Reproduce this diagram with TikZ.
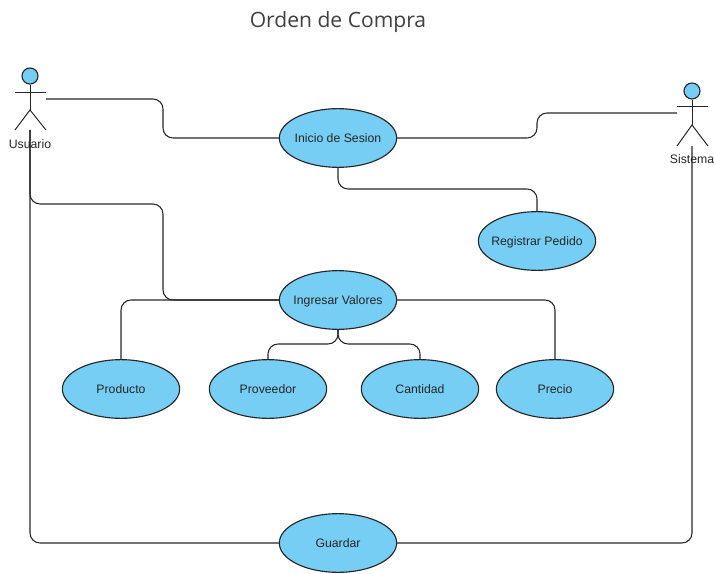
\documentclass[tikz,border=0pt]{standalone}
\usepackage{fontspec}
\setmainfont{Liberation Sans}
\newfontfamily\titlefont{Open Sans}
\usetikzlibrary{shapes.geometric}
\definecolor{casefill}{HTML}{76CEF5}
\definecolor{inkline}{HTML}{262626}
\tikzset{
    casenode/.style={draw=inkline,fill=casefill,ellipse,line width=0.85pt,minimum width=88pt,minimum height=44pt,inner xsep=-14pt,inner ysep=0pt,font=\fontsize{9.2}{11}\selectfont,text=black!85,text height=8.1pt,text depth=1.9pt},
    headnode/.style={draw=inkline,fill=casefill,circle,line width=0.85pt,minimum size=12pt,inner sep=0pt},
    actorname/.style={font=\fontsize{9.2}{11}\selectfont,text=black!85,inner sep=0pt},
    limb/.style={draw=inkline,line width=0.75pt},
    conn/.style={draw=inkline,line width=0.8pt,rounded corners=7.5pt},
}

\begin{document}
\begin{tikzpicture}[x=0.75pt,y=-0.75pt]
\useasboundingbox (0,0) rectangle (714,574);
\node[font=\fontsize{15.8}{18}\selectfont\titlefont,text=black!75,inner sep=0pt] (titulo) at (338,22) {Orden de Compra};
% casos de uso
\node[casenode] (inicio) at (338,138) {Inicio de Sesion};
\node[casenode] (registrar) at (537,241) {Registrar Pedido};
\node[casenode] (ingresar) at (338,300) {Ingresar Valores};
\node[casenode] (producto) at (121,389) {Producto};
\node[casenode] (proveedor) at (268,389) {Proveedor};
\node[casenode] (cantidad) at (420,389) {Cantidad};
\node[casenode] (precio) at (555,389) {Precio};
\node[casenode] (guardar) at (338,543) {Guardar};
% actor Usuario
\node[headnode] (usuario) at (30,76) {};
\coordinate (usuarioCadera) at (30,110);
\coordinate (usuarioPieL) at (15,130);
\coordinate (usuarioPieR) at (46,130);
\coordinate (usuarioBrazoL) at (15,93);
\coordinate (usuarioBrazoR) at (46,93);
\coordinate (usuarioSale) at (46,99);
\coordinate (usuarioBase) at (30,130);
\draw[limb] (usuario) -- (usuarioCadera);
\draw[limb] (usuarioBrazoL) -- (usuarioBrazoR);
\draw[limb] (usuarioPieL) -- (usuarioCadera) -- (usuarioPieR);
\node[actorname] (usuarioname) at (30,144) {Usuario};
% actor Sistema
\node[headnode] (sistema) at (692,91) {};
\coordinate (sistemaCadera) at (692,125);
\coordinate (sistemaPieL) at (677,146);
\coordinate (sistemaPieR) at (708,146);
\coordinate (sistemaBrazoL) at (677,107);
\coordinate (sistemaBrazoR) at (708,107);
\coordinate (sistemaSale) at (677,113);
\coordinate (sistemaBase) at (692,146);
\draw[limb] (sistema) -- (sistemaCadera);
\draw[limb] (sistemaBrazoL) -- (sistemaBrazoR);
\draw[limb] (sistemaPieL) -- (sistemaCadera) -- (sistemaPieR);
\node[actorname] (sistemaname) at (692,159) {Sistema};
% codos
\coordinate (codoInicio) at (163,99);
\coordinate (codoSistema) at (537,113);
\coordinate (codoRegistrar) at (437,189);
\coordinate (codoValores) at (163,204);
\coordinate (codoProveedor) at (303,344);
\coordinate (codoCantidad) at (379,344);
% conectores
\draw[conn] (usuarioSale) -- (codoInicio) |- (inicio.west);
\draw[conn] (inicio.east) -| (codoSistema) -- (sistemaSale);
\draw[conn] (inicio.south) |- (codoRegistrar) -| (registrar.north);
\draw[conn] (usuarioBase) |- (codoValores) |- (ingresar.west);
\draw[conn] (ingresar.west) -| (producto.north);
\draw[conn] (ingresar.east) -| (precio.north);
\draw[conn] (ingresar.south) |- (codoProveedor) -| (proveedor.north);
\draw[conn] (ingresar.south) |- (codoCantidad) -| (cantidad.north);
\draw[conn] (usuarioBase) |- (guardar.west);
\draw[conn] (sistemaBase) |- (guardar.east);
\end{tikzpicture}
\end{document}
